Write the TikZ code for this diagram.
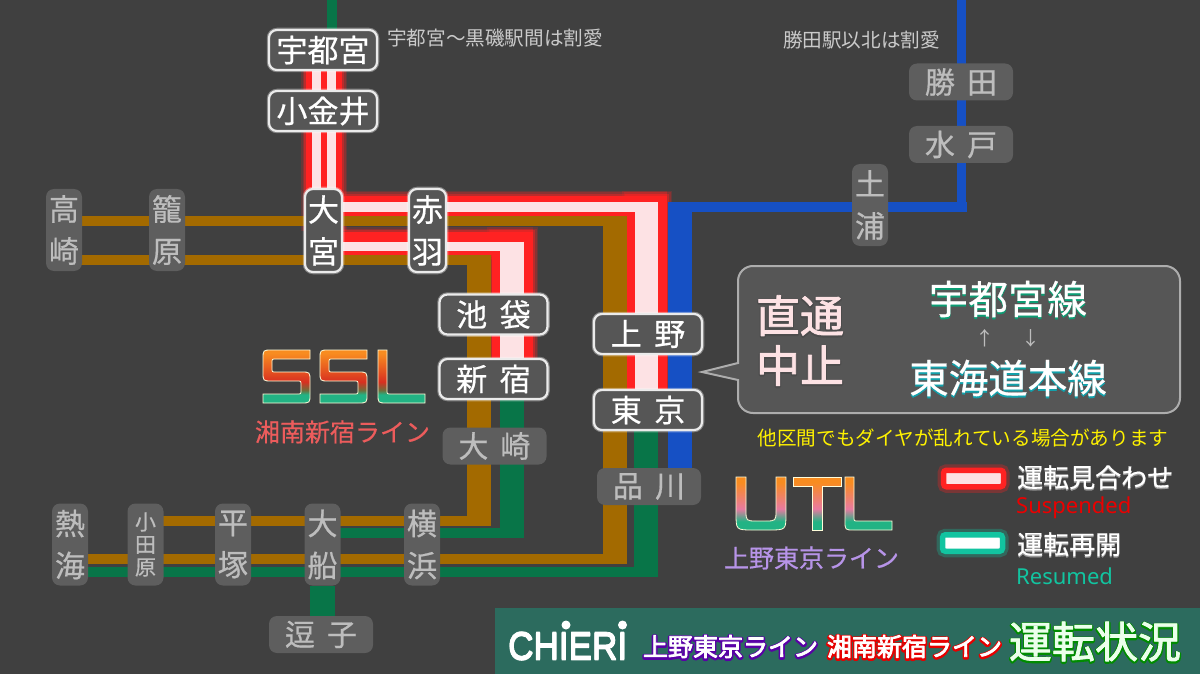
\documentclass[tikz,border=0pt]{standalone}
\usepackage{fontspec}
\setmainfont{Noto Sans CJK JP}[WordSpace=1.8]
\newfontfamily\heavy{Noto Sans CJK JP}[WordSpace=1.8,FakeBold=0.6]
\newfontfamily\latinfont{Noto Sans}
\newfontfamily\logofont{Liberation Sans}
\usetikzlibrary{calc}
\definecolor{bgdark}{HTML}{404040}
\definecolor{boxdark}{HTML}{565656}
\definecolor{boxfar}{HTML}{5E5E5E}
\definecolor{textfar}{HTML}{BDBDBD}
\definecolor{susred}{HTML}{FF2222}
\definecolor{suswhite}{HTML}{FDE2E4}
\definecolor{trackbrown}{HTML}{A36A00}
\definecolor{trackgreen}{HTML}{087548}
\definecolor{trackblue}{HTML}{1650C4}
\definecolor{resteal}{HTML}{12C4A0}
\definecolor{bannergreen}{HTML}{2C6B5E}
\definecolor{logoorange}{HTML}{F88C20}
\definecolor{logored}{HTML}{D83020}
\definecolor{logomud}{HTML}{6E6E3C}
\definecolor{logogreen}{HTML}{22B384}
\definecolor{logopink}{HTML}{E87AA0}
\definecolor{ssllabel}{HTML}{EC5C5C}
\definecolor{utllabel}{HTML}{B794E8}
\pgfdeclareverticalshading{sslshade}{100bp}{color(0bp)=(logogreen); color(33bp)=(logogreen); color(37bp)=(logomud); color(45bp)=(logored); color(72bp)=(logoorange); color(100bp)=(logoorange)}
\pgfdeclareverticalshading{utlshade}{100bp}{color(0bp)=(logogreen); color(33bp)=(logogreen); color(45bp)=(logopink); color(70bp)=(logoorange); color(100bp)=(logoorange)}
\pgfdeclarelayer{tracks}
\pgfsetlayers{tracks,main}
\newcommand{\halo}[3]{\leavevmode\rlap{\raisebox{-1pt}{\textcolor{#1}{\special{pdf:code 2 Tr #2 w 1 j}#3\special{pdf:code 0 Tr 0 w}}}}\special{pdf:code 2 Tr .8 w}#3\special{pdf:code 0 Tr 0 w}}
\newcommand{\esspath}{(47,0) -- (9,0) .. controls (0,0) .. (0,9) -- (0,22) .. controls (0,31) .. (9,31) -- (34,31) .. controls (38,31) .. (38,35) -- (38,40) .. controls (38,44) .. (34,44) -- (0,44) -- (0,53) -- (38,53) .. controls (47,53) .. (47,44) -- (47,31) .. controls (47,22) .. (38,22) -- (13,22) .. controls (9,22) .. (9,18) -- (9,13) .. controls (9,9) .. (13,9) -- (47,9) -- cycle}
\newcommand{\ellpath}{(0,0) -- (0,44) .. controls (0,53) .. (9,53) -- (47,53) -- (47,44) -- (13,44) .. controls (9,44) .. (9,40) -- (9,0) -- cycle}
\newcommand{\redtracks}[1]{%
	\draw[line width=36pt+#1pt] (colR |- utsunomiya.south) -- (colR |- omiya);
	\draw[line width=20pt+#1pt,shorten >=-20pt] (omiya |- rowRa) -- (colRa |- rowRa);
	\draw[line width=40pt+#1pt,shorten <=-10pt-0.5*#1pt] (colRa |- rowRa) -- (colRa |- tokyo.north);
	\draw[line width=23pt+#1pt,shorten >=-20pt] (omiya |- rowRb) -- (colRb |- rowRb);
	\draw[line width=41pt+#1pt,shorten <=-11.5pt-0.5*#1pt] (colRb |- rowRb) -- (colRb |- shinjuku.north);
}
\tikzset{
	stnbase/.style={rounded corners=8pt,inner sep=0pt,align=center},
	stnnear/.style={stnbase,fill=boxdark,preaction={draw=white,opacity=.35,line width=4.5pt},draw=white!92!black,line width=2.2pt,text=white,font=\heavy\fontsize{31}{42}\selectfont},
	stnfar/.style={stnbase,fill=boxfar,text=textfar,font=\heavy\fontsize{30}{42}\selectfont},
	hnear/.style={stnnear,minimum width=108pt,minimum height=40pt},
	vnear/.style={stnnear,minimum width=37pt,minimum height=83pt},
	hfar/.style={stnfar,minimum width=104pt,minimum height=37pt},
	vfar/.style={stnfar,minimum width=36pt,minimum height=82pt},
	thinline/.style={line width=10pt},
	wideline/.style={line width=24pt},
	note/.style={inner sep=0pt,text=#1,font=\fontsize{19.6}{24}\selectfont},
	legendtext/.style={inner sep=0pt,anchor=west,text=white,font=\heavy\fontsize{26}{30}\selectfont},
	logoshape/.style={shade,shading=#1,draw=white!85!yellow,line width=.8pt},
	swatch/.style={minimum width=60pt,minimum height=16.5pt,inner sep=0pt,line width=5.5pt,rounded corners=3pt,fill=#1},
}
\begin{document}
\begin{tikzpicture}[x=1pt,y=-1pt,line join=miter]
	\useasboundingbox (0,0) rectangle (1200,674);
	\coordinate (rowRa) at (0,206);
	\coordinate (rowRb) at (0,243.5);
	\coordinate (rowU) at (0,207);
	\coordinate (rowS) at (0,246);
	\coordinate (rowBa) at (0,221);
	\coordinate (rowBb) at (0,260);
	\coordinate (rowBc) at (0,520.5);
	\coordinate (rowGc) at (0,533);
	\coordinate (rowBd) at (0,558.5);
	\coordinate (rowGd) at (0,572);
	\coordinate (colR) at (324,0);
	\coordinate (colRa) at (647,0);
	\coordinate (colRb) at (512.5,0);
	\coordinate (colBs) at (479,0);
	\coordinate (colGs) at (512,0);
	\coordinate (colBu) at (615,0);
	\coordinate (colGu) at (646,0);
	\coordinate (colBlue) at (679.5,0);
	\coordinate (topNorth) at (332,0);
	\coordinate (topMito) at (961.5,0);
	\coordinate (cornerMito) at (961.5,207);
	
	\fill[bannergreen] (495,608) rectangle (1200,674);
	
	\node[hnear] (utsunomiya) at (323,50) {宇都宮};
	\node[hnear] (koganei) at (323,111) {小金井};
	\node[vnear] (omiya) at (323.5,230.5) {大\\宮};
	\node[vnear] (akabane) at (427.5,230.5) {赤\\羽};
	\node[hnear] (ikebukuro) at (493.5,314.5) {池 袋};
	\node[hnear] (shinjuku) at (493.5,379) {新 宿};
	\node[hnear] (ueno) at (648,334) {上 野};
	\node[hnear] (tokyo) at (648,410) {東 京};
	\foreach \id/\x/\y/\txt in {osaki/494.5/446/大 崎,shinagawa/649/486.5/品 川,katsuta/961/82/勝 田,mito/961/144.5/水 戸,zushi/321/634.5/逗 子}
	\node[hfar] (\id) at (\x,\y) {\txt};
	\foreach \id/\x/\y/\txt in {tsuchiura/870/205/土\\浦,takasaki/64/230/高\\崎,kagohara/167/230/籠\\原,atami/70/544.5/熱\\海,hiratsuka/233/544.5/平\\塚,ofuna/322.5/544.5/大\\船,yokohama/422/544.5/横\\浜}
	\node[vfar] (\id) at (\x,\y) {\txt};
	\node[vfar,font=\heavy\fontsize{21}{22.5}\selectfont] (odawara) at (145.5,544.5) {小\\田\\原};
	
	\begin{pgfonlayer}{tracks}
		\fill[bgdark] (0,0) rectangle (1200,674);
		\foreach \e/\o in {10/.18,7/.25,4/.4}
		\begin{scope}[draw=susred,opacity=\o]
			\redtracks{\e}
		\end{scope}
		\draw[trackgreen,thinline] (topNorth) -- (topNorth |- utsunomiya.north);
		\draw[trackbrown,thinline] (takasaki |- rowBa) -- (omiya |- rowBa);
		\draw[trackbrown,thinline] (takasaki |- rowBb) -- (omiya |- rowBb);
		\draw[trackbrown,thinline,shorten >=-12pt] (omiya |- rowBa) -- (colBu |- rowBa);
		\draw[trackbrown,thinline,shorten >=-12pt] (omiya |- rowBb) -- (colBs |- rowBb);
		\draw[trackbrown,wideline,shorten <=-5pt] (colBu |- rowBa) -- (colBu |- rowBd);
		\draw[trackbrown,wideline,shorten <=-5pt,shorten >=-5pt] (colBs |- rowBb) -- (colBs |- rowBc);
		\draw[trackbrown,thinline,shorten >=-12pt] (odawara |- rowBc) -- (colBs |- rowBc);
		\draw[trackbrown,thinline,shorten >=-12pt] (atami |- rowBd) -- (colBu |- rowBd);
		\draw[trackgreen,wideline,shorten >=-5pt] (colGs |- shinjuku.south) -- (colGs |- rowGc);
		\draw[trackgreen,thinline,shorten >=-12pt] (ofuna |- rowGc) -- (colGs |- rowGc);
		\draw[trackgreen,wideline,shorten >=-5pt] (colGu |- tokyo.south) -- (colGu |- rowGd);
		\draw[trackgreen,thinline,shorten >=-12pt] (atami |- rowGd) -- (colGu |- rowGd);
		\draw[trackgreen,line width=25pt] (ofuna.south) -- (ofuna |- zushi.north);
		\draw[trackblue,wideline,shorten <=-5pt] (colBlue |- rowU) -- (colBlue |- shinagawa.north);
		\draw[trackblue,thinline,shorten >=-5pt] (colBlue |- rowU) -- (cornerMito);
		\draw[trackblue,line width=9.5pt] (topMito) -- (cornerMito);
		\begin{scope}[draw=susred]
			\redtracks{0}
		\end{scope}
		\draw[suswhite,line width=9.5pt] ([xshift=-6.5pt]utsunomiya.south) -- ([xshift=-6.5pt]utsunomiya.south |- omiya);
		\draw[suswhite,line width=9.5pt] ([xshift=8.5pt]utsunomiya.south) -- ([xshift=8.5pt]utsunomiya.south |- omiya);
		\draw[suswhite,thinline,shorten >=-11.5pt] (omiya |- rowU) -- (colGu |- rowU);
		\draw[suswhite,line width=23pt,shorten <=-5pt] (colGu |- rowU) -- (colGu |- tokyo.north);
		\draw[suswhite,line width=9pt,shorten >=-12pt] (omiya |- rowS) -- (colGs |- rowS);
		\draw[suswhite,wideline,shorten <=-4.5pt] (colGs |- rowS) -- (colGs |- shinjuku.north);
	\end{pgfonlayer}
	
	\node[note=textfar!80!white] (noteN) at (495,38) {宇都宮〜黒磯駅間は割愛};
	\node[note=textfar!80!white] (noteE) at (861.5,40) {勝田駅以北は割愛};
	
	\draw[fill=boxdark,draw=white!68!black,line width=2pt] (738,363) -- (702,372) -- (738,380) [rounded corners=15pt] -- (738,413) -- (1180,413) -- (1180,266) -- (738,266) -- (738,320) [sharp corners] -- cycle;
	\node[inner sep=0pt,align=center,text=suswhite,font=\fontsize{44}{50}\selectfont] (stopmsg) at (800,341) {\halo{black!70}{3}{直通}\\\halo{black!70}{3}{中止}};
	\node[inner sep=0pt,text=white,font=\heavy\fontsize{39.5}{45}\selectfont] (lineU) at (1008,300) {\rlap{\raisebox{-2pt}{\textcolor{trackgreen!50!resteal}{宇都宮線}}}宇都宮線};
	\node[inner sep=0pt,text=white,font=\heavy\fontsize{39.5}{45}\selectfont] (lineT) at (1008,379) {\rlap{\raisebox{-2pt}{\textcolor{resteal!70!trackblue}{東海道本線}}}東海道本線};
	\node[inner sep=0pt,text=textfar,font=\fontsize{19}{22}\selectfont] (arrowU) at (985,338) {↑};
	\node[inner sep=0pt,text=textfar,font=\fontsize{19}{22}\selectfont] (arrowD) at (1031,338) {↓};
	\node[note=yellow] (notice) at (963,438) {他区間でもダイヤが乱れている場合があります};
	
	\path[logoshape=sslshade,shift={(263,350)}] \esspath;
	\path[logoshape=sslshade,shift={(320,350)}] \esspath;
	\path[logoshape=sslshade,shift={(378,350)}] \ellpath;
	\node[inner sep=0pt,text=ssllabel,font=\heavy\fontsize{25}{30}\selectfont] (ssltext) at (342.5,432) {湘南新宿ライン};
	\path[logoshape=utlshade,shift={(736,477)}] (0,0) -- (0,36) .. controls (0,53) .. (17,53) -- (33,53) .. controls (50,53) .. (50,36) -- (50,0) -- (40,0) -- (40,33) .. controls (40,44) .. (29,44) -- (21,44) .. controls (10,44) .. (10,33) -- (10,0) -- cycle;
	\path[logoshape=utlshade,shift={(793,477)}] (0,0) -- (48,0) -- (48,9) -- (29,9) -- (29,53) -- (19,53) -- (19,9) -- (0,9) -- cycle;
	\path[logoshape=utlshade,shift={(845,477)}] \ellpath;
	\node[inner sep=0pt,text=utllabel,font=\heavy\fontsize{25}{30}\selectfont] (utltext) at (811.5,558) {上野東京ライン};
	
	\node[swatch=suswhite,draw=susred,preaction={draw=susred,opacity=.3,line width=12pt}] (swatchsus) at (973.5,478.5) {};
	\node[swatch=white,draw=resteal,preaction={draw=resteal,opacity=.3,line width=12pt}] (swatchres) at (972.5,543) {};
	\node[legendtext] (labelsus) at (1017,478) {\rlap{\raisebox{-1.5pt}{\textcolor{white!60!black}{運転見合わせ}}}運転見合わせ};
	\node[legendtext] (labelres) at (1017,545) {\rlap{\raisebox{-1.5pt}{\textcolor{white!60!black}{運転再開}}}運転再開};
	\node[inner sep=0pt,anchor=west,text=red!92!black,font=\latinfont\fontsize{22}{24}\selectfont] (engsus) at (1016,508) {Suspended};
	\node[inner sep=0pt,anchor=west,text=resteal,font=\latinfont\fontsize{22}{24}\selectfont] (engres) at (1016,576) {Resumed};
	
	\node[inner sep=0pt,anchor=west,xscale=.9,text=white,font=\logofont\fontsize{39}{44}\selectfont] (chieri) at (508,646) {\halo{white}{1}{CHIERI}};
	\node[circle,fill=white,inner sep=0pt,minimum size=9pt] (dotA) at (566,625) {};
	\node[circle,fill=white,inner sep=0pt,minimum size=9pt] (dotB) at (622.5,625) {};
	\node[inner sep=0pt,text=white,font=\fontsize{25}{30}\selectfont] (bannerU) at (730.5,647) {\halo{violet!70!blue}{4}{上野東京ライン}};
	\node[inner sep=0pt,text=white,font=\fontsize{25}{30}\selectfont] (bannerS) at (914.5,647) {\halo{red!90!black}{4}{湘南新宿ライン}};
	\node[inner sep=0pt,text=green!8!white,font=\fontsize{43}{50}\selectfont] (bannerT) at (1095,642) {\halo{green!55!black}{3.5}{運転状況}};
\end{tikzpicture}
\end{document}
